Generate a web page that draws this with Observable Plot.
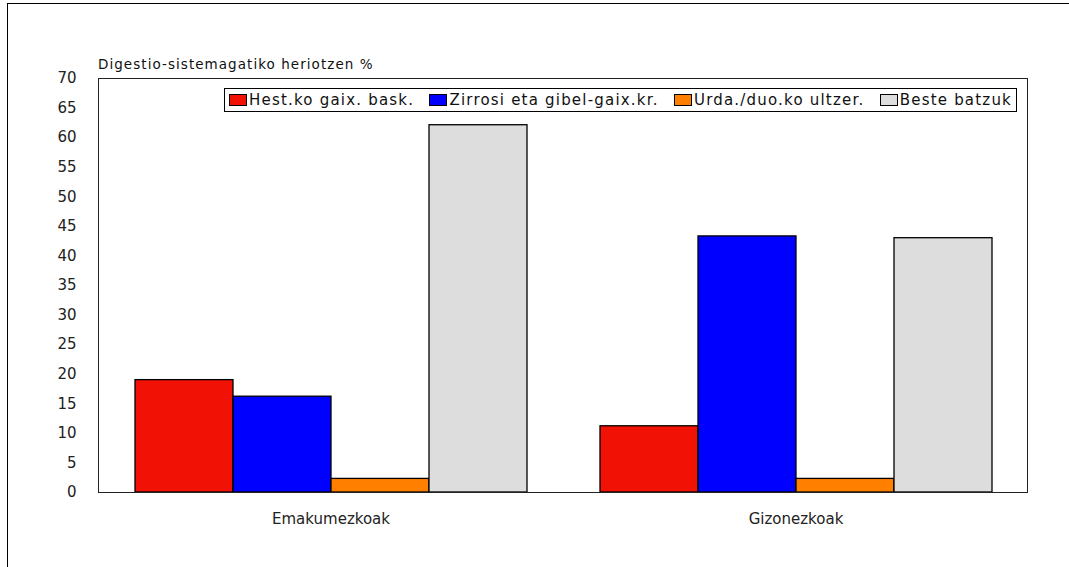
<!DOCTYPE html>
<html>
<head>
<meta charset="utf-8">
<script src="https://cdn.jsdelivr.net/npm/d3@7"></script>
<script src="https://cdn.jsdelivr.net/npm/@observablehq/plot@0.6"></script>
<style>
  html, body { margin: 0; padding: 0; background: #fff; overflow: hidden; }
  body { width: 1069px; height: 567px; position: relative; font-family: "DejaVu Sans", sans-serif; }
  #outer { position: absolute; left: 7px; top: 3px; width: 1100px; height: 600px; border: 1px solid #000; box-sizing: border-box; }
  #chart { position: absolute; left: 0; top: 0; }
  #ylabel { position: absolute; left: 98px; top: 56px; font-size: 13.5px; letter-spacing: 1.05px; color: #111; white-space: nowrap; }
  #plotbox { position: absolute; left: 98px; top: 78px; width: 930px; height: 415px; border: 1.5px solid #222; box-sizing: border-box; pointer-events: none; }
  #legend { position: absolute; left: 224px; top: 88px; width: 793px; height: 24px; border: 1px solid #000; box-sizing: border-box; background: #fff;
            display: flex; align-items: center; justify-content: space-between; font-size: 15px; letter-spacing: 1.2px; color: #111; white-space: nowrap; padding: 0 4px 0 4px; }
  .item { display: flex; align-items: center; }
  .sw { width: 18px; height: 12px; border: 1.5px solid #000; box-sizing: border-box; margin-right: 2px; }
</style>
</head>
<body>
<div id="outer"></div>
<div id="chart"></div>
<div id="plotbox"></div>
<div id="ylabel"></div>
<div id="legend"></div>
<script>
const groups = ["Emakumezkoak", "Gizonezkoak"];
const series = ["Hest.ko gaix. bask.", "Zirrosi eta gibel-gaix.kr.", "Urda./duo.ko ultzer.", "Beste batzuk"];
const colors = ["#f21205", "#0000ff", "#ff8000", "#dddddd"];
const emakumezkoak = [19.0, 16.2, 2.3, 62.1];
const gizonezkoak = [11.2, 43.3, 2.3, 43.0];
const yTicks = [0, 5, 10, 15, 20, 25, 30, 35, 40, 45, 50, 55, 60, 65, 70];
const yTitle = "Digestio-sistemagatiko heriotzen %";

const values = [emakumezkoak, gizonezkoak];
const data = [];
groups.forEach((g, gi) => series.forEach((s, si) => data.push({group: g, series: s, value: values[gi][si]})));

const chart = Plot.plot({
  width: 1069,
  height: 567,
  marginLeft: 98,
  marginRight: 41,
  marginTop: 78,
  marginBottom: 75,
  style: {fontFamily: "DejaVu Sans, sans-serif", fontSize: "15px", color: "#222", background: "transparent"},
  fx: {domain: groups, paddingInner: 0.15, paddingOuter: 0.075, label: null, axis: "bottom", tickSize: 0, tickPadding: 21},
  x: {domain: series, padding: 0, axis: null},
  y: {domain: [0, 70], ticks: yTicks, tickSize: 0, tickPadding: 57, label: null},
  color: {domain: series, range: colors},
  marks: [
    Plot.barY(data, {fx: "group", x: "series", y: "value", fill: "series", stroke: "#000", strokeWidth: 1.3, inset: 0})
  ]
});
document.getElementById("chart").appendChild(chart);

document.getElementById("ylabel").textContent = yTitle;
const legend = document.getElementById("legend");
series.forEach((s, i) => {
  const it = document.createElement("div");
  it.className = "item";
  const sw = document.createElement("div");
  sw.className = "sw";
  sw.style.background = colors[i];
  const tx = document.createElement("span");
  tx.textContent = s;
  it.appendChild(sw); it.appendChild(tx);
  legend.appendChild(it);
});
</script>
</body>
</html>
